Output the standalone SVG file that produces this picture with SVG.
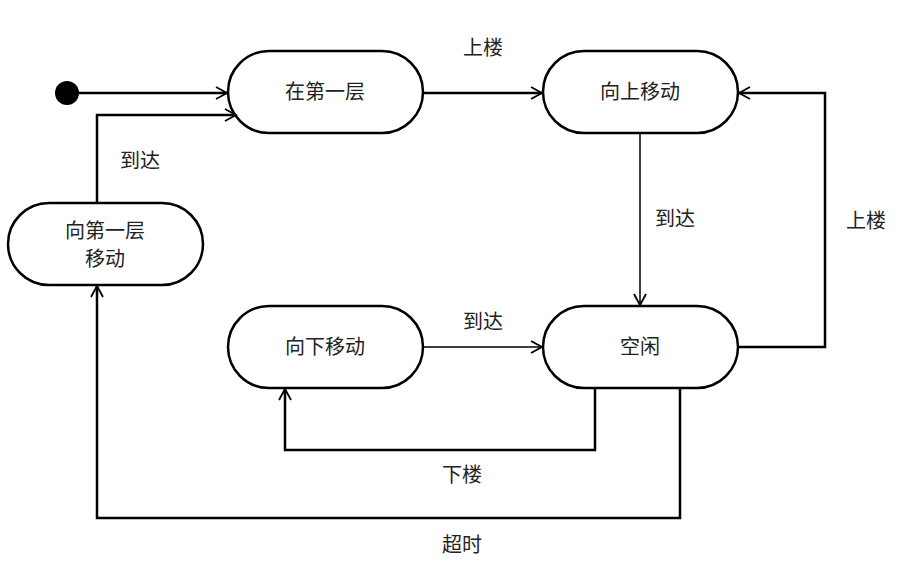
<svg xmlns="http://www.w3.org/2000/svg" width="908" height="570" viewBox="0 0 908 570">
<style>
.n{fill:#fff;stroke:#000;stroke-width:2.5}
.t{font-family:"Noto Sans CJK SC","Liberation Sans",sans-serif;font-size:20px;fill:#222;text-anchor:middle}
.c{fill:none;stroke:#000;stroke-width:2.5;marker-end:url(#a)}
.thin{stroke-width:1.5}
</style>
<defs><marker id="a" markerWidth="14" markerHeight="14" refX="12" refY="7" orient="auto" markerUnits="userSpaceOnUse"><path d="M1,1 L12,7 L1,13" fill="none" stroke="#000" stroke-width="1.8"/></marker></defs>
<rect width="908" height="570" fill="#fff"/>
<g id="start"><circle cx="67" cy="93" r="12" fill="#000"/></g>
<g id="s1"><rect class="n" x="228" y="51" width="195" height="82" rx="41"/><text class="t" x="325" y="99">在第一层</text></g>
<g id="s2"><rect class="n" x="543" y="51" width="195" height="82" rx="41"/><text class="t" x="640" y="99">向上移动</text></g>
<g id="s3"><rect class="n" x="8" y="203" width="195" height="82" rx="41"/><text class="t" x="105" y="238">向第一层</text><text class="t" x="105" y="266">移动</text></g>
<g id="s4"><rect class="n" x="228" y="306" width="195" height="82" rx="41"/><text class="t" x="325" y="354">向下移动</text></g>
<g id="s5"><rect class="n" x="543" y="306" width="195" height="82" rx="41"/><text class="t" x="640" y="354">空闲</text></g>
<g id="edges">
<path class="c" d="M79,93 H227"/>
<path class="c" d="M423,93 H542"/>
<path class="c thin" d="M640,133 V305"/>
<path class="c" d="M738,347 H825 V93 H739"/>
<path class="c thin" d="M423,347 H542"/>
<path class="c" d="M595,388 V450 H285 V389"/>
<path class="c" d="M680,388 V518 H97 V286"/>
<path class="c" d="M97,203 V115 H236"/>
</g>
<g id="labels">
<text class="t" x="483" y="55">上楼</text>
<text class="t" x="675" y="226">到达</text>
<text class="t" x="866" y="228">上楼</text>
<text class="t" x="483" y="329">到达</text>
<text class="t" x="462" y="482">下楼</text>
<text class="t" x="462" y="552">超时</text>
<text class="t" x="140" y="168">到达</text>
</g>
</svg>
